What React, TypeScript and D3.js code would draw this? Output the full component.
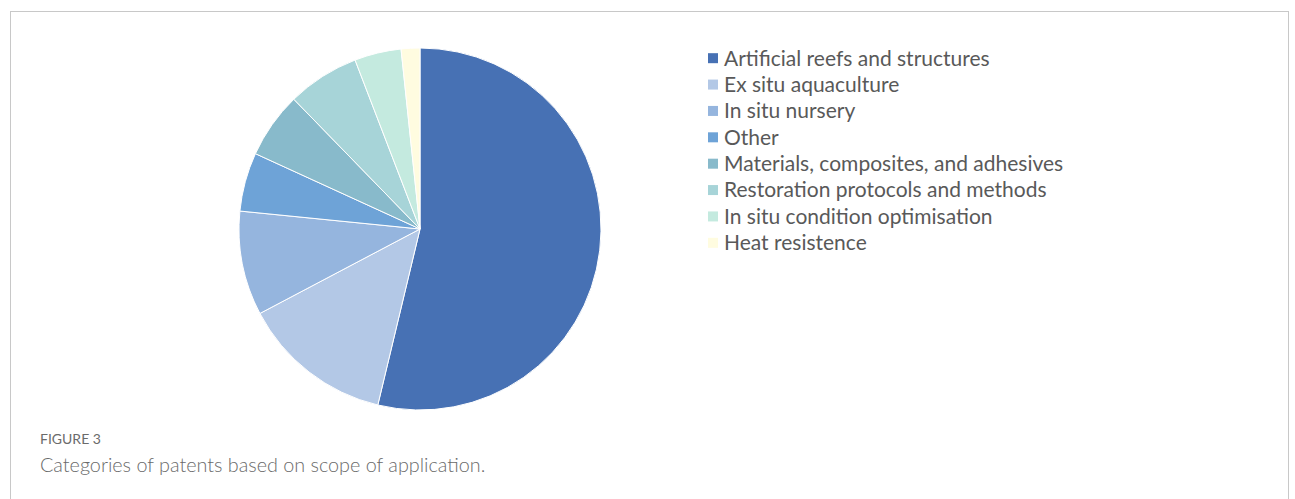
import React from "react";
import * as d3 from "d3";

const categories = [
  "Artificial reefs and structures",
  "Ex situ aquaculture",
  "In situ nursery",
  "Other",
  "Materials, composites, and adhesives",
  "Restoration protocols and methods",
  "In situ condition optimisation",
  "Heat resistence",
];
const values = [53.75, 13.53, 9.31, 5.25, 5.89, 6.44, 4.17, 1.67];
const colors = ["#4771B4", "#B3C8E6", "#95B5DE", "#6EA3D7", "#88BACB", "#A7D4D8", "#C4EADF", "#FFFCE0"];
const figureLabel = "FIGURE 3";
const caption = "Categories of patents based on scope of application.";

export default function App() {
  const W = 1295, H = 499;
  const cx = 420, cy = 229, r = 181;
  const data = categories.map((c, i) => ({ c, v: values[i], col: colors[i] }));
  const pie = d3.pie<any>().value((d) => d.v).sort(null);
  const arc = d3.arc<any>().innerRadius(0).outerRadius(r);
  const arcs = pie(data);
  const legendY = d3.scaleBand().domain(categories).range([45, 256]);
  return (
    <svg width={W} height={H} style={{ position: "absolute", left: 0, top: 0, background: "#fff" }}>
      <rect x={10.5} y={11.5} width={1278} height={500} fill="none" stroke="#c8c8c8" strokeWidth={1} />
      <g transform={`translate(${cx},${cy})`}>
        {arcs.map((a, i) => (
          <path key={i} d={arc(a) as string} fill={a.data.col} stroke="#fff" strokeWidth={1} />
        ))}
      </g>
      <g>
        {categories.map((c, i) => {
          const y = (legendY(c) as number) + legendY.bandwidth() / 2;
          return (
            <g key={c}>
              <rect x={708} y={y - 5} width={10} height={10} fill={colors[i]} />
              <text x={724} y={y} dy="0.35em" fontFamily="Lato, 'Open Sans', sans-serif" fontSize={21} fill="#595959">
                {c}
              </text>
            </g>
          );
        })}
      </g>
      <text x={40} y={444} fontFamily="Lato, sans-serif" fontSize={14} fill="#6b6b6b">{figureLabel}</text>
      <text x={40} y={472} fontFamily="Lato, sans-serif" fontSize={19.8} fontWeight={300} fill="#6a6a6a">{caption}</text>
    </svg>
  );
}
